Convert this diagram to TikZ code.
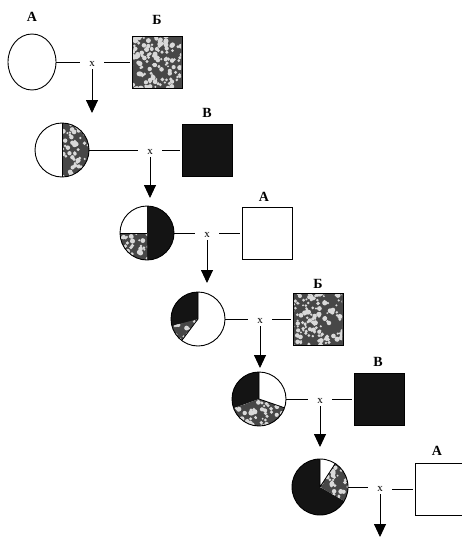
\documentclass[tikz,border=0pt]{standalone}
\usepackage{fontspec}
\setmainfont{Liberation Serif}
\usetikzlibrary{arrows.meta,shapes.geometric}
\newcommand\myblobs[3]{%
  \foreach \k in {1,...,#3}{%
    \pgfmathsetmacro\bx{#1+58*rnd-29}%
    \pgfmathsetmacro\by{#2+58*rnd-29}%
    \pgfmathsetmacro\br{1.0+1.6*rnd}%
    \fill[white!85!black] (\bx,\by) circle[radius=\br pt];}}
\begin{document}
\begin{tikzpicture}[x=1pt,y=-1pt,
  ind/.style={circle,draw,line width=0.9pt,minimum size=54pt,inner sep=0pt},
  sq/.style={draw,line width=1pt,minimum width=50pt,minimum height=52pt,inner sep=0pt},
  lab/.style={font=\bfseries\fontsize{14}{14}\selectfont,inner sep=0pt},
  cross/.style={font=\fontsize{11}{11}\selectfont,inner sep=0pt,minimum width=24pt,minimum height=6pt},
  link/.style={line width=1pt},
  desc/.style={line width=0.9pt,shorten <=2pt,-{Triangle[length=13pt,width=12pt]}},
  dark/.style={fill=black!92},
  speckbase/.style={fill=black!72}
]
\pgfmathsetseed{7}
\clip (0,0) rectangle (462,538);
\fill[white] (0,0) rectangle (462,538);

% ---------- fills of the circles ----------
\coordinate (p2) at (62,150);
\coordinate (p3) at (147,233);
\coordinate (p4) at (198,319);
\coordinate (p5) at (259,399);
\coordinate (p6) at (320,487);
% row 2: right half speckled
\begin{scope}
  \clip (p2) -- ++(-90:27pt) arc[start angle=-90,end angle=90,radius=27pt] -- cycle;
  \fill[speckbase] (p2) circle[radius=28pt];
  \myblobs{62}{150}{150}
\end{scope}
\draw[line width=0.9pt] (p2) ++(90:27pt) -- ++(0,54);
% row 3: right half black, lower-left quarter speckled
\path[dark] (p3) -- ++(-90:27pt) arc[start angle=-90,end angle=90,radius=27pt] -- cycle;
\begin{scope}
  \clip (p3) -- ++(180:27pt) arc[start angle=180,end angle=270,radius=27pt] -- cycle;
  \fill[speckbase] (p3) circle[radius=28pt];
  \myblobs{147}{233}{150}
\end{scope}
\draw[line width=0.8pt] (p3) -- ++(180:27pt);
% row 4
\path[dark] (p4) -- ++(90:27pt) arc[start angle=90,end angle=200,radius=27pt] -- cycle;
\begin{scope}
  \clip (p4) -- ++(195:27pt) arc[start angle=195,end angle=233,radius=27pt] -- cycle;
  \fill[speckbase] (p4) circle[radius=28pt];
  \myblobs{198}{319}{110}
\end{scope}
\draw[line width=0.8pt] (p4) -- ++(90:27pt) (p4) -- ++(233:27pt);
% row 5
\path[dark] (p5) -- ++(90:27pt) arc[start angle=90,end angle=200,radius=27pt] -- cycle;
\begin{scope}
  \clip (p5) -- ++(200:27pt) arc[start angle=200,end angle=341,radius=27pt] -- cycle;
  \fill[speckbase] (p5) circle[radius=28pt];
  \myblobs{259}{399}{140}
\end{scope}
\draw[line width=0.8pt] (p5) -- ++(90:27pt) (p5) -- ++(-19:27pt);
% row 6
\path[dark] (p6) -- ++(90:28pt) arc[start angle=90,end angle=330,radius=28pt] -- cycle;
\begin{scope}
  \clip (p6) -- ++(-30:28pt) arc[start angle=-30,end angle=57,radius=28pt] -- cycle;
  \fill[speckbase] (p6) circle[radius=29pt];
  \myblobs{320}{487}{130}
\end{scope}
\draw[line width=0.8pt] (p6) -- ++(90:28pt) (p6) -- ++(57:28pt);

% ---------- squares ----------
\node[sq,fill=black!72] (s1) at (157,62) {};
\begin{scope}
  \clip (133,37) rectangle (181,87);
  \myblobs{157}{62}{170}
\end{scope}
\node[sq] at (s1) {};
\node[sq,dark] (s2) at (207,150) {};
\node[sq] (s3) at (267,233) {};
\node[sq,fill=black!72] (s4) at (318,319) {};
\begin{scope}
  \clip (294,294) rectangle (342,344);
  \myblobs{318}{319}{170}
\end{scope}
\node[sq] at (s4) {};
\node[sq,dark] (s5) at (379,399) {};
\node[sq] (s6) at (440,489) {};

% ---------- individuals ----------
\node[ellipse,draw,line width=0.9pt,minimum width=48pt,minimum height=56pt,inner sep=0pt] (c1) at (32,62) {};
\node[ind] (c2) at (p2) {};
\node[ind] (c3) at (p3) {};
\node[ind] (c4) at (p4) {};
\node[ind] (c5) at (p5) {};
\node[ind,minimum size=56pt] (c6) at (p6) {};

% ---------- labels ----------
\node[lab] (l1) at (32,17) {А};
\node[lab] (l2) at (157,20) {Б};
\node[lab] (l3) at (207,113) {В};
\node[lab] (l4) at (264,197) {А};
\node[lab] (l5) at (318,284) {Б};
\node[lab] (l6) at (378,362) {В};
\node[lab] (l7) at (437,451) {А};

% ---------- crosses ----------
\node[cross] (x1) at (92,64) {x};
\node[cross] (x2) at (150,152) {x};
\node[cross] (x3) at (207,235) {x};
\node[cross] (x4) at (260,321) {x};
\node[cross] (x5) at (320,401) {x};
\node[cross] (x6) at (380,489) {x};

\coordinate (a1) at (92,113);
\coordinate (a2) at (150,198);
\coordinate (a3) at (207,283);
\coordinate (a4) at (260,368);
\coordinate (a5) at (320,447);
\coordinate (a6) at (380,537);

\foreach \i in {1,...,6}{
  \draw[link] (c\i.east) -- (x\i.west |- c\i.east);
  \draw[link,shorten >=2pt] (x\i.east |- s\i.west) -- (s\i.west);
  \draw[desc] (x\i.south) -- (a\i);
}
\end{tikzpicture}
\end{document}
